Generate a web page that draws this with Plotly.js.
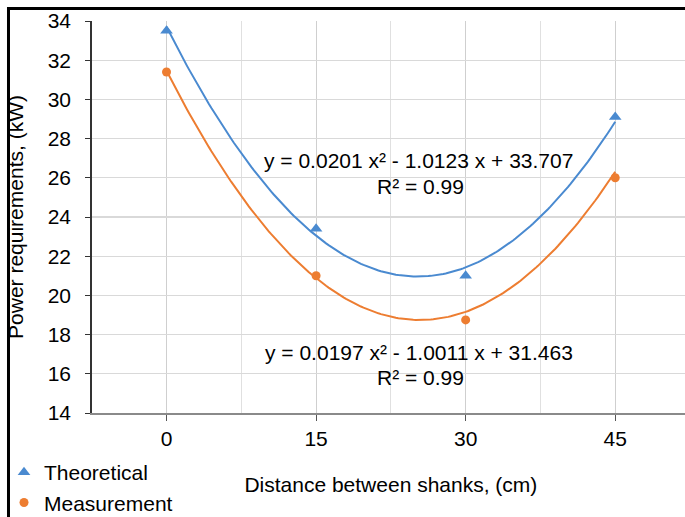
<!DOCTYPE html>
<html>
<head>
<meta charset="utf-8">
<script src="https://cdn.plot.ly/plotly-3.0.1.min.js"></script>
<style>
  html, body { margin: 0; padding: 0; background: #ffffff; overflow: hidden; }
  #chart { width: 700px; height: 540px; }
</style>
</head>
<body>
<div id="chart"></div>
<script>
// ---- data ----
const distances = [0, 15, 30, 45];
const theoretical = [33.5, 23.4, 21.0, 29.1];
const measurement = [31.4, 21.0, 18.75, 26.0];

// trendline coefficients printed on the chart: y = a x^2 + b x + c
const theoreticalFit = [0.0201, -1.0123, 33.707];
const measurementFit = [0.0197, -1.0011, 31.463];
const theoreticalEq = "y = 0.0201 x² - 1.0123 x + 33.707";
const measurementEq = "y = 0.0197 x² - 1.0011 x + 31.463";
const rSquaredText = "R² = 0.99";

const seriesNames = ["Theoretical", "Measurement"];
const xTitle = "Distance between shanks, (cm)";
const yTitle = "Power requirements, (kW)";

// ---- styles ----
const blue = "#4a8ad0";
const orange = "#ed7d31";
const FONT = "Liberation Sans, Arial, sans-serif";

// figure geometry (pixels)
const W = 700, H = 540;
const ML = 4, MR = 10, MT = 21, MB = 10;
const plotLeft = 90, plotRight = 690, plotBottom = 413;
const paperW = W - ML - MR, paperH = H - MT - MB;
const px2x = p => (p - ML) / paperW;
const px2y = p => (H - MB - p) / paperH;

function trend(coef) {
  const xs = [], ys = [];
  const x0 = distances[0], x1 = distances[distances.length - 1];
  for (let i = 0; i <= 180; i++) {
    const x = x0 + (x1 - x0) * i / 180;
    xs.push(x);
    ys.push(coef[0] * x * x + coef[1] * x + coef[2]);
  }
  return {x: xs, y: ys};
}
const tT = trend(theoreticalFit);
const tM = trend(measurementFit);

const traces = [
  {x: tT.x, y: tT.y, mode: "lines", line: {color: blue, width: 2}, showlegend: false, hoverinfo: "skip"},
  {x: tM.x, y: tM.y, mode: "lines", line: {color: orange, width: 2}, showlegend: false, hoverinfo: "skip"},
  {x: distances, y: theoretical, name: seriesNames[0], mode: "markers",
   marker: {symbol: "triangle-up", size: 11, color: blue}},
  {x: distances, y: measurement, name: seriesNames[1], mode: "markers",
   marker: {symbol: "circle", size: 9, color: orange}}
];

const layout = {
  width: W, height: H,
  margin: {l: ML, r: MR, t: MT, b: MB, pad: 0},
  paper_bgcolor: "#ffffff",
  plot_bgcolor: "#ffffff",
  font: {family: FONT, size: 21, color: "#000000"},
  showlegend: true,
  legend: {
    x: px2x(2), xanchor: "left", y: px2y(452), yanchor: "top",
    bgcolor: "rgba(0,0,0,0)", font: {family: FONT, size: 21, color: "#000"},
    itemwidth: 30, tracegroupgap: 0
  },
  xaxis: {
    domain: [px2x(plotLeft), px2x(plotRight)],
    range: [-7.5, 52.5],
    tickmode: "linear", tick0: 0, dtick: 15,
    showgrid: true, gridcolor: "#cfcfcf", gridwidth: 1,
    minor: {tick0: -7.5, dtick: 7.5, showgrid: true, gridcolor: "#e0e0e0", gridwidth: 1, ticks: ""},
    zeroline: false,
    showline: true, linecolor: "#8a8a8a", linewidth: 1.5,
    ticks: "outside", ticklen: 6, tickcolor: "#555", tickwidth: 1,
    ticklabelstandoff: 0,
    automargin: false,
    tickfont: {family: FONT, size: 21, color: "#000"},
    title: {text: xTitle, font: {family: FONT, size: 21, color: "#000"}, standoff: 28}
  },
  yaxis: {
    domain: [px2y(plotBottom), 1],
    range: [14, 34],
    tickmode: "linear", tick0: 14, dtick: 2,
    showgrid: true, gridcolor: "#d9d9d9", gridwidth: 1.2,
    zeroline: false,
    showline: true, linecolor: "#333333", linewidth: 1.5,
    ticks: "outside", ticklen: 5, tickcolor: "#333", tickwidth: 1,
    ticklabelstandoff: 10,
    automargin: false,
    tickfont: {family: FONT, size: 21, color: "#000"},
    title: {text: yTitle, font: {family: FONT, size: 21, color: "#000"}, standoff: 18}
  },
  annotations: [
    {x: 25.3, y: 26.9, xref: "x", yref: "y", text: theoreticalEq, showarrow: false,
     font: {family: FONT, size: 21, color: "#000"}},
    {x: 25.5, y: 25.55, xref: "x", yref: "y", text: rSquaredText, showarrow: false,
     font: {family: FONT, size: 21, color: "#000"}},
    {x: 25.35, y: 17.1, xref: "x", yref: "y", text: measurementEq, showarrow: false,
     font: {family: FONT, size: 21, color: "#000"}},
    {x: 25.5, y: 15.8, xref: "x", yref: "y", text: rSquaredText, showarrow: false,
     font: {family: FONT, size: 21, color: "#000"}}
  ],
  shapes: [
    {type: "line", xref: "paper", yref: "paper", x0: px2x(6.5), x1: px2x(6.5), y0: px2y(7), y1: px2y(540),
     line: {color: "#000", width: 3}},
    {type: "line", xref: "paper", yref: "paper", x0: px2x(5), x1: px2x(700), y0: px2y(8.5), y1: px2y(8.5),
     line: {color: "#000", width: 3}}
  ]
};

Plotly.newPlot("chart", traces, layout, {staticPlot: true, displayModeBar: false});
</script>
</body>
</html>
